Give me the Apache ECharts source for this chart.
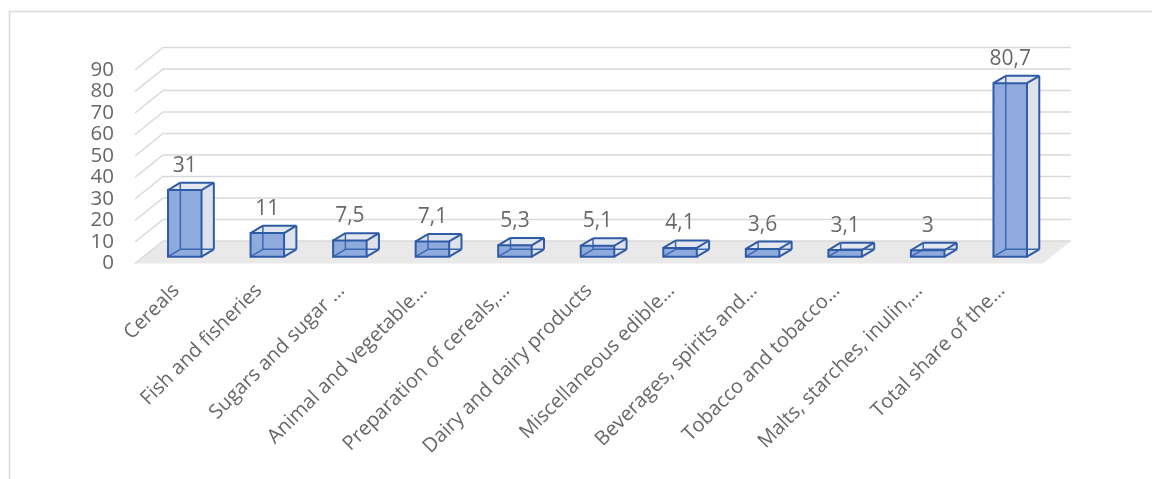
<!DOCTYPE html>
<html>
<head>
<meta charset="utf-8">
<script src="https://cdn.jsdelivr.net/npm/echarts@6/dist/echarts.min.js"></script>
<style>html,body{margin:0;padding:0;background:#fff;}#chart{width:1152px;height:479px;}</style>
</head>
<body>
<div id="chart"></div>
<script>
const categories = [
  "Cereals",
  "Fish and fisheries",
  "Sugars and sugar …",
  "Animal and vegetable…",
  "Preparation of cereals,…",
  "Dairy and dairy products",
  "Miscellaneous edible…",
  "Beverages, spirits and…",
  "Tobacco and tobacco…",
  "Malts, starches, inulin,…",
  "Total share of the…"
];
const values = [31, 11, 7.5, 7.1, 5.3, 5.1, 4.1, 3.6, 3.1, 3, 80.7];
const yTicks = [0, 10, 20, 30, 40, 50, 60, 70, 80, 90];

const FONT = "'Open Sans', 'Noto Sans', sans-serif";
const TXT = '#686868';
// 3D look parameters (pixels)
const WALL = [28, -22.5];      // back wall offset from front plane
const BAR_SHIFT = [8.5, -6.8]; // bar front face offset from front plane
const BAR_DEPTH = [12.3, -7.4];
const BAR_W_RATIO = 0.406;

const n = categories.length;
const chart = echarts.init(document.getElementById('chart'), null, {renderer: 'canvas'});

function fmt(v) { return String(v).replace('.', ','); }

const option = {
  animation: false,
  graphic: [{
    type: 'rect', z: -10,
    shape: {x: 9.5, y: 11.5, width: 1300, height: 700},
    style: {fill: 'none', stroke: '#d9d9d9', lineWidth: 1.5}
  }],
  grid: {left: 135, right: 109, top: 70, bottom: 215.5, containLabel: false},
  xAxis: {
    type: 'category',
    data: categories,
    axisLine: {show: false},
    axisTick: {show: false},
    splitLine: {show: false},
    axisLabel: {
      interval: 0, rotate: 45, margin: 24,
      color: TXT, fontFamily: FONT, fontSize: 20
    }
  },
  yAxis: {
    type: 'value', min: 0, max: 90, interval: 10,
    axisLine: {show: false},
    axisTick: {show: false},
    splitLine: {show: false},
    axisLabel: {margin: 21, color: TXT, fontFamily: FONT, fontSize: 20.5}
  },
  series: [
    {
      // floor
      type: 'custom', z: 1, silent: true,
      data: [[0, 0]],
      renderItem: function (params, api) {
        const band = api.size([1, 0])[0];
        const a = api.coord([0, 0]);
        const b = api.coord([n - 1, 0]);
        const L = a[0] - band / 2, R = b[0] + band / 2, y = a[1];
        return {
          type: 'polygon',
          shape: {points: [[L, y], [L + WALL[0], y + WALL[1]], [R + WALL[0], y + WALL[1]], [R, y]]},
          style: {fill: '#e9e9e9', stroke: null}
        };
      }
    },
    {
      // back wall gridlines
      type: 'custom', z: 2, silent: true,
      data: yTicks.map(v => [0, v]),
      renderItem: function (params, api) {
        const band = api.size([1, 0])[0];
        const v = api.value(1);
        const a = api.coord([0, v]);
        const b = api.coord([n - 1, v]);
        const L = a[0] - band / 2, R = b[0] + band / 2, y = a[1];
        return {
          type: 'polyline',
          shape: {points: [[L, y], [L + WALL[0], y + WALL[1]], [R + WALL[0], y + WALL[1]]]},
          style: {fill: null, stroke: '#d9d9d9', lineWidth: 1.5}
        };
      }
    },
    {
      // 3D bars
      type: 'custom', z: 3, silent: true,
      data: values.map((v, i) => [i, v]),
      renderItem: function (params, api) {
        const band = api.size([1, 0])[0];
        const i = api.value(0), v = api.value(1);
        const top = api.coord([i, v]);
        const base = api.coord([i, 0]);
        const bw = band * BAR_W_RATIO;
        const cx = top[0] + BAR_SHIFT[0];
        const x0 = cx - bw / 2, x1 = cx + bw / 2;
        const yb = base[1] + BAR_SHIFT[1], yt = top[1] + BAR_SHIFT[1];
        const dx = BAR_DEPTH[0], dy = BAR_DEPTH[1];
        const edge = '#2f5aa6';
        const line = (p, q, w, c) => ({type: 'line', shape: {x1: p[0], y1: p[1], x2: q[0], y2: q[1]}, style: {stroke: c || edge, lineWidth: w || 2}});
        const children = [
          // right side face
          {type: 'polygon', shape: {points: [[x1, yb], [x1 + dx, yb + dy], [x1 + dx, yt + dy], [x1, yt]]}, style: {fill: '#dde2ec'}},
          // top face
          {type: 'polygon', shape: {points: [[x0, yt], [x0 + dx, yt + dy], [x1 + dx, yt + dy], [x1, yt]]}, style: {fill: '#e3e7ef'}},
          // front face
          {type: 'rect', shape: {x: x0, y: yt, width: bw, height: yb - yt}, style: {fill: '#8fabdd'}},
          // hidden back edges (seen through)
          line([x0 + dx, yb + dy], [x0 + dx, yt + dy], 1.5, '#3d66b0'),
          line([x0 + dx, yb + dy], [x1 + dx, yb + dy], 1.5, '#3d66b0'),
          line([x0, yb], [x0 + dx, yb + dy], 1.5, '#3d66b0'),
          // visible edges
          line([x1, yb], [x1 + dx, yb + dy]),
          line([x1 + dx, yb + dy], [x1 + dx, yt + dy]),
          line([x0, yt], [x0 + dx, yt + dy]),
          line([x1, yt], [x1 + dx, yt + dy]),
          line([x0 + dx, yt + dy], [x1 + dx, yt + dy]),
          {type: 'rect', shape: {x: x0, y: yt, width: bw, height: yb - yt}, style: {fill: null, stroke: edge, lineWidth: 2}},
          // value label
          {type: 'text', x: cx, y: yt + dy - 17,
           style: {text: fmt(values[i]), fill: TXT, font: '21px ' + FONT, align: 'center', verticalAlign: 'middle'}}
        ];
        return {type: 'group', children: children};
      }
    }
  ]
};
chart.setOption(option);
</script>
</body>
</html>
